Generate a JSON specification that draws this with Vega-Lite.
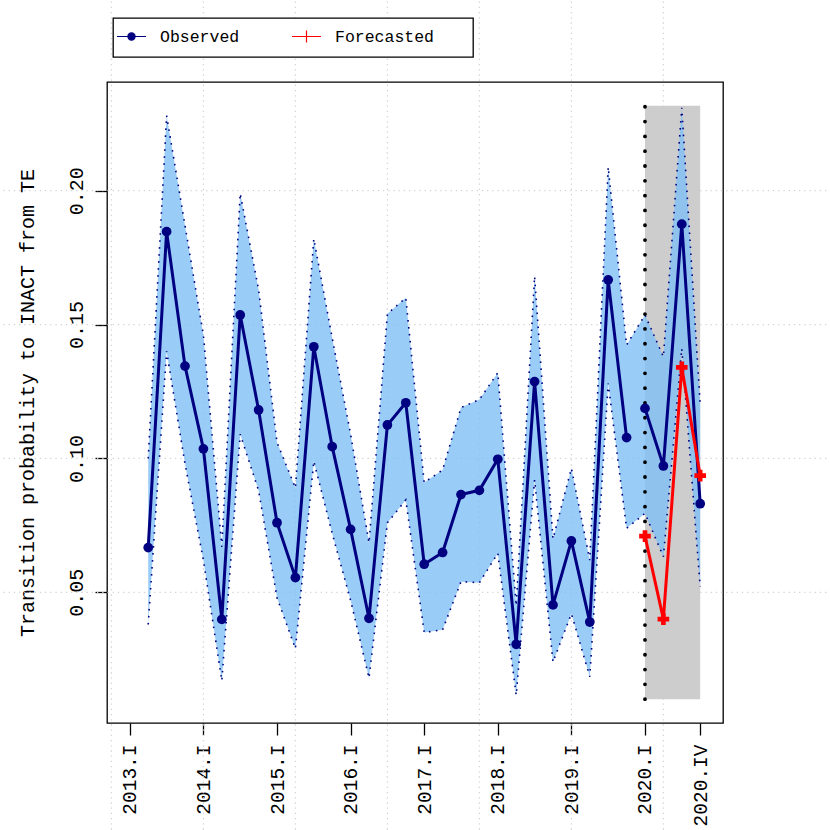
{
  "$schema": "https://vega.github.io/schema/vega-lite/v6.json",
  "width": 616,
  "height": 641,
  "autosize": {"type": "none"},
  "padding": {"left": 107, "top": 82, "right": 107, "bottom": 107},
  "background": "white",
  "config": {
    "view": {"stroke": "black", "strokeWidth": 1.3},
    "font": "Liberation Mono",
    "axisX": {
      "labelAngle": 270, "labelAlign": "right", "labelBaseline": "middle",
      "labelFont": "Liberation Mono", "labelFontSize": 19.5, "labelColor": "black",
      "labelPadding": 9, "labelFlush": false, "labelOverlap": false, "labelBound": false,
      "tickSize": 12, "tickColor": "black", "tickWidth": 1.3,
      "domain": false, "grid": false
    },
    "axisY": {
      "labelAngle": 270, "labelAlign": "center", "labelBaseline": "alphabetic",
      "labelFont": "Liberation Mono", "labelFontSize": 20, "labelColor": "black",
      "labelPadding": 13, "labelFlush": false, "labelOverlap": false, "labelBound": false,
      "tickSize": 12, "tickColor": "black", "tickWidth": 1.3,
      "domain": false, "grid": false,
      "titleFont": "Liberation Mono", "titleFontSize": 20, "titleFontWeight": "normal", "titleColor": "black",
      "titleAngle": 270, "titleAlign": "center", "titleBaseline": "alphabetic",
      "titleX": -74, "titleY": 320.5
    }
  },
  "datasets": {
    "series": [
      {"idx": 2, "quarter": "2013.II", "series": "Observed", "seg": "A", "v": 0.0667, "lo": 0.038, "hi": 0.100},
      {"idx": 3, "quarter": "2013.III", "series": "Observed", "seg": "A", "v": 0.1847, "lo": 0.140, "hi": 0.228},
      {"idx": 4, "quarter": "2013.IV", "series": "Observed", "seg": "A", "v": 0.1345, "lo": 0.098, "hi": 0.187},
      {"idx": 5, "quarter": "2014.I", "series": "Observed", "seg": "A", "v": 0.1036, "lo": 0.062, "hi": 0.146},
      {"idx": 6, "quarter": "2014.II", "series": "Observed", "seg": "A", "v": 0.0399, "lo": 0.017, "hi": 0.067},
      {"idx": 7, "quarter": "2014.III", "series": "Observed", "seg": "A", "v": 0.1536, "lo": 0.109, "hi": 0.199},
      {"idx": 8, "quarter": "2014.IV", "series": "Observed", "seg": "A", "v": 0.1181, "lo": 0.088, "hi": 0.163},
      {"idx": 9, "quarter": "2015.I", "series": "Observed", "seg": "A", "v": 0.0760, "lo": 0.048, "hi": 0.106},
      {"idx": 10, "quarter": "2015.II", "series": "Observed", "seg": "A", "v": 0.0555, "lo": 0.029, "hi": 0.089},
      {"idx": 11, "quarter": "2015.III", "series": "Observed", "seg": "A", "v": 0.1417, "lo": 0.099, "hi": 0.182},
      {"idx": 12, "quarter": "2015.IV", "series": "Observed", "seg": "A", "v": 0.1044, "lo": 0.072, "hi": 0.145},
      {"idx": 13, "quarter": "2016.I", "series": "Observed", "seg": "A", "v": 0.0735, "lo": 0.047, "hi": 0.109},
      {"idx": 14, "quarter": "2016.II", "series": "Observed", "seg": "A", "v": 0.0403, "lo": 0.018, "hi": 0.0685},
      {"idx": 15, "quarter": "2016.III", "series": "Observed", "seg": "A", "v": 0.1125, "lo": 0.076, "hi": 0.154},
      {"idx": 16, "quarter": "2016.IV", "series": "Observed", "seg": "A", "v": 0.1208, "lo": 0.0845, "hi": 0.160},
      {"idx": 17, "quarter": "2017.I", "series": "Observed", "seg": "A", "v": 0.0605, "lo": 0.035, "hi": 0.091},
      {"idx": 18, "quarter": "2017.II", "series": "Observed", "seg": "A", "v": 0.0649, "lo": 0.036, "hi": 0.0957},
      {"idx": 19, "quarter": "2017.III", "series": "Observed", "seg": "A", "v": 0.0865, "lo": 0.054, "hi": 0.119},
      {"idx": 20, "quarter": "2017.IV", "series": "Observed", "seg": "A", "v": 0.0881, "lo": 0.0536, "hi": 0.122},
      {"idx": 21, "quarter": "2018.I", "series": "Observed", "seg": "A", "v": 0.0997, "lo": 0.0646, "hi": 0.132},
      {"idx": 22, "quarter": "2018.II", "series": "Observed", "seg": "A", "v": 0.0306, "lo": 0.0116, "hi": 0.045},
      {"idx": 23, "quarter": "2018.III", "series": "Observed", "seg": "A", "v": 0.1287, "lo": 0.092, "hi": 0.168},
      {"idx": 24, "quarter": "2018.IV", "series": "Observed", "seg": "A", "v": 0.0453, "lo": 0.024, "hi": 0.070},
      {"idx": 25, "quarter": "2019.I", "series": "Observed", "seg": "A", "v": 0.0692, "lo": 0.042, "hi": 0.0963},
      {"idx": 26, "quarter": "2019.II", "series": "Observed", "seg": "A", "v": 0.0389, "lo": 0.0185, "hi": 0.062},
      {"idx": 27, "quarter": "2019.III", "series": "Observed", "seg": "A", "v": 0.1667, "lo": 0.128, "hi": 0.2088},
      {"idx": 28, "quarter": "2019.IV", "series": "Observed", "seg": "A", "v": 0.1078, "lo": 0.0739, "hi": 0.1424},
      {"idx": 29, "quarter": "2020.I", "series": "Observed", "seg": "B", "v": 0.1187, "lo": 0.0795, "hi": 0.1536},
      {"idx": 30, "quarter": "2020.II", "series": "Observed", "seg": "B", "v": 0.0972, "lo": 0.0633, "hi": 0.138},
      {"idx": 31, "quarter": "2020.III", "series": "Observed", "seg": "B", "v": 0.1875, "lo": 0.141, "hi": 0.231},
      {"idx": 32, "quarter": "2020.IV", "series": "Observed", "seg": "B", "v": 0.0831, "lo": 0.052, "hi": 0.120},
      {"idx": 29, "quarter": "2020.I", "series": "Forecasted", "seg": "F", "v": 0.0710},
      {"idx": 30, "quarter": "2020.II", "series": "Forecasted", "seg": "F", "v": 0.0400},
      {"idx": 31, "quarter": "2020.III", "series": "Forecasted", "seg": "F", "v": 0.1340},
      {"idx": 32, "quarter": "2020.IV", "series": "Forecasted", "seg": "F", "v": 0.0936}
    ],
    "gridx": [{"g": 0}, {"g": 5}, {"g": 10}, {"g": 15}, {"g": 20}, {"g": 25}, {"g": 30}],
    "gridy": [{"gv": 0.05}, {"gv": 0.1}, {"gv": 0.15}, {"gv": 0.2}],
    "window": [{"start": 29, "end": 32, "lo": 0.0101, "hi": 0.2317}]
  },
  "layer": [
    {
      "data": {"name": "gridx"},
      "mark": {"type": "rule", "color": "#d3d3d3", "strokeWidth": 1.3, "strokeDash": [1.3, 3.9]},
      "encoding": {
        "x": {"field": "g", "type": "quantitative", "title": null,
              "scale": {"domain": [-0.24, 33.24], "nice": false, "zero": false},
              "axis": {"values": [1, 5, 9, 13, 17, 21, 25, 29, 32], "labelExpr": "(2013 + floor((datum.value - 1) / 4)) + '.' + ['I','II','III','IV'][(datum.value - 1) % 4]"}},
        "y": {"datum": -0.06, "type": "quantitative", "title": "Transition probability to INACT from TE",
              "scale": {"domain": [0.0012, 0.2406], "nice": false, "zero": false},
              "axis": {"values": [0.05, 0.1, 0.15, 0.2], "format": ".2f"}},
        "y2": {"datum": 0.3}
      }
    },
    {
      "data": {"name": "gridy"},
      "mark": {"type": "rule", "color": "#d3d3d3", "strokeWidth": 1.3, "strokeDash": [1.3, 3.9]},
      "encoding": {
        "y": {"field": "gv", "type": "quantitative", "title": "Transition probability to INACT from TE",
              "axis": {"values": [0.05, 0.1, 0.15, 0.2], "format": ".2f"}},
        "x": {"datum": -7, "type": "quantitative", "title": null,
              "axis": {"values": [1, 5, 9, 13, 17, 21, 25, 29, 32], "labelExpr": "(2013 + floor((datum.value - 1) / 4)) + '.' + ['I','II','III','IV'][(datum.value - 1) % 4]"}},
        "x2": {"datum": 40}
      }
    },
    {
      "data": {"name": "window"},
      "mark": {"type": "rect", "color": "#cdcdcd", "opacity": 1},
      "encoding": {
        "x": {"field": "start", "type": "quantitative", "title": null,
              "axis": {"values": [1, 5, 9, 13, 17, 21, 25, 29, 32], "labelExpr": "(2013 + floor((datum.value - 1) / 4)) + '.' + ['I','II','III','IV'][(datum.value - 1) % 4]"}},
        "x2": {"field": "end"},
        "y": {"field": "lo", "type": "quantitative", "title": "Transition probability to INACT from TE",
              "axis": {"values": [0.05, 0.1, 0.15, 0.2], "format": ".2f"}},
        "y2": {"field": "hi"}
      }
    },
    {
      "data": {"name": "series"},
      "transform": [{"filter": "datum.series === 'Observed'"}],
      "mark": {"type": "area", "color": "#7fbff5", "opacity": 0.8},
      "encoding": {
        "x": {"field": "idx", "type": "quantitative", "title": null,
              "axis": {"values": [1, 5, 9, 13, 17, 21, 25, 29, 32], "labelExpr": "(2013 + floor((datum.value - 1) / 4)) + '.' + ['I','II','III','IV'][(datum.value - 1) % 4]"}},
        "y": {"field": "lo", "type": "quantitative", "title": "Transition probability to INACT from TE",
              "axis": {"values": [0.05, 0.1, 0.15, 0.2], "format": ".2f"}},
        "y2": {"field": "hi"}
      }
    },
    {
      "data": {"name": "series"},
      "transform": [
        {"filter": "datum.series === 'Observed'"},
        {"fold": ["lo", "hi"], "as": ["bound", "bv"]}
      ],
      "mark": {"type": "line", "color": "#000080", "strokeWidth": 1.6, "strokeDash": [1.6, 5.4]},
      "encoding": {
        "x": {"field": "idx", "type": "quantitative", "title": null,
              "axis": {"values": [1, 5, 9, 13, 17, 21, 25, 29, 32], "labelExpr": "(2013 + floor((datum.value - 1) / 4)) + '.' + ['I','II','III','IV'][(datum.value - 1) % 4]"}},
        "y": {"field": "bv", "type": "quantitative", "title": "Transition probability to INACT from TE",
              "axis": {"values": [0.05, 0.1, 0.15, 0.2], "format": ".2f"}},
        "detail": {"field": "bound", "type": "nominal"}
      }
    },
    {
      "data": {"name": "window"},
      "mark": {"type": "rule", "color": "black", "strokeWidth": 3.8, "strokeDash": [0.01, 14.8], "strokeCap": "round"},
      "encoding": {
        "x": {"field": "start", "type": "quantitative", "title": null,
              "axis": {"values": [1, 5, 9, 13, 17, 21, 25, 29, 32], "labelExpr": "(2013 + floor((datum.value - 1) / 4)) + '.' + ['I','II','III','IV'][(datum.value - 1) % 4]"}},
        "y": {"field": "lo", "type": "quantitative", "title": "Transition probability to INACT from TE",
              "axis": {"values": [0.05, 0.1, 0.15, 0.2], "format": ".2f"}},
        "y2": {"field": "hi"}
      }
    },
    {
      "data": {"name": "series"},
      "mark": {"type": "line", "strokeWidth": 3},
      "encoding": {
        "x": {"field": "idx", "type": "quantitative", "title": null,
              "axis": {"values": [1, 5, 9, 13, 17, 21, 25, 29, 32], "labelExpr": "(2013 + floor((datum.value - 1) / 4)) + '.' + ['I','II','III','IV'][(datum.value - 1) % 4]"}},
        "y": {"field": "v", "type": "quantitative", "title": "Transition probability to INACT from TE",
              "axis": {"values": [0.05, 0.1, 0.15, 0.2], "format": ".2f"}},
        "detail": {"field": "seg", "type": "nominal"},
        "color": {
          "field": "series", "type": "nominal",
          "scale": {"domain": ["Observed", "Forecasted"], "range": ["#000080", "#ff0000"]},
          "legend": {
            "orient": "none", "legendX": 6, "legendY": -64, "direction": "horizontal",
            "title": null, "padding": 3, "strokeColor": "black", "fillColor": "white", "cornerRadius": 0,
            "symbolSize": 841, "symbolStrokeWidth": 1.2,
            "labelFont": "Liberation Mono", "labelFontSize": 16.5, "labelColor": "black",
            "labelOffset": 13, "columnPadding": 49, "labelLimit": 0,
            "encode": {
              "legend": {"update": {"strokeWidth": {"value": 1.3}}},
              "symbols": {
                "update": {
                  "shape": {"signal": "datum.value === 'Observed' ? 'M0,-1.04M0,1.04M-1,0H1M-0.25,0A0.25,0.25,0,1,1,0.25,0A0.25,0.25,0,1,1,-0.25,0Z' : 'M0,-1.04M0,1.04M11.1,0M-1,0H1M0,-0.41V0.41'"},
                  "fill": {"signal": "datum.value === 'Observed' ? '#000080' : 'transparent'"},
                  "stroke": {"signal": "datum.value === 'Observed' ? '#000080' : '#ff0000'"},
                  "strokeWidth": {"value": 1.2},
                  "opacity": {"value": 1}
                }
              }
            }
          }
        }
      }
    },
    {
      "data": {"name": "series"},
      "transform": [{"filter": "datum.series === 'Observed'"}],
      "mark": {"type": "point", "filled": true, "shape": "circle", "size": 95, "color": "#000080", "opacity": 1},
      "encoding": {
        "x": {"field": "idx", "type": "quantitative", "title": null,
              "axis": {"values": [1, 5, 9, 13, 17, 21, 25, 29, 32], "labelExpr": "(2013 + floor((datum.value - 1) / 4)) + '.' + ['I','II','III','IV'][(datum.value - 1) % 4]"}},
        "y": {"field": "v", "type": "quantitative", "title": "Transition probability to INACT from TE",
              "axis": {"values": [0.05, 0.1, 0.15, 0.2], "format": ".2f"}}
      }
    },
    {
      "data": {"name": "series"},
      "transform": [{"filter": "datum.series === 'Forecasted'"}],
      "mark": {"type": "point", "filled": true, "shape": "cross", "size": 135, "color": "#ff0000", "opacity": 1},
      "encoding": {
        "x": {"field": "idx", "type": "quantitative", "title": null,
              "axis": {"values": [1, 5, 9, 13, 17, 21, 25, 29, 32], "labelExpr": "(2013 + floor((datum.value - 1) / 4)) + '.' + ['I','II','III','IV'][(datum.value - 1) % 4]"}},
        "y": {"field": "v", "type": "quantitative", "title": "Transition probability to INACT from TE",
              "axis": {"values": [0.05, 0.1, 0.15, 0.2], "format": ".2f"}}
      }
    }
  ]
}
